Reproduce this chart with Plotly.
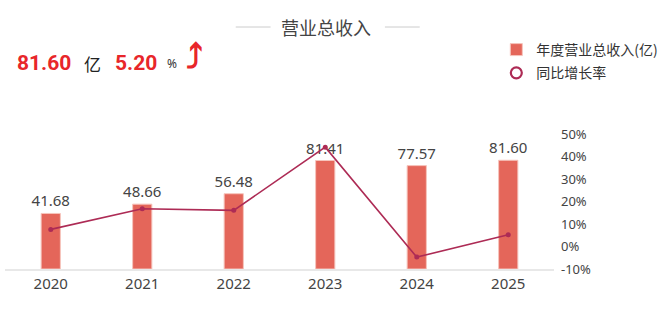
import plotly.graph_objects as go

years = ["2020", "2021", "2022", "2023", "2024", "2025"]
revenue = [41.68, 48.66, 56.48, 81.41, 77.57, 81.60]
growth = [7.6, 16.75, 16.07, 44.14, -4.72, 5.20]
right_ticks = [-10, 0, 10, 20, 30, 40, 50]

BAR_COLOR = "#E4665A"
LINE_COLOR = "#AD2B55"
FONT = "Noto Sans, Noto Sans CJK SC, sans-serif"
CJK = "Noto Sans CJK SC, sans-serif"

# plot-area geometry helpers (pixel -> paper)
L, R, T, B = 5, 111, 134, 49
W, H = 668, 318
PW, PH = W - L - R, H - T - B
def px(x):
    return (x - L) / PW
def py(y):
    return (H - B - y) / PH

fig = go.Figure()
fig.add_trace(go.Bar(
    x=years, y=revenue, name="年度营业总收入(亿)",
    marker=dict(color=BAR_COLOR, line=dict(color="#F6C4BC", width=1)),
    width=0.21,
    texttemplate="%{y:.2f}", textposition="outside", constraintext="none",
    textfont=dict(size=15, color="#444444", family=FONT),
    cliponaxis=False, legendgroup="a", hoverinfo="x+y",
))
fig.add_trace(go.Scatter(
    x=years, y=growth, yaxis="y2", mode="lines+markers",
    line=dict(color=LINE_COLOR, width=1.6),
    marker=dict(color=LINE_COLOR, size=5),
    showlegend=False, cliponaxis=False,
))
fig.add_trace(go.Scatter(
    x=[None], y=[None], yaxis="y2", mode="markers", name="同比增长率",
    marker=dict(symbol="circle-open", color=LINE_COLOR, size=11, line=dict(width=2.2)),
    legendgroup="b",
))

annotations = [
    dict(text="营业总收入", x=px(328), y=py(27), xanchor="center", yanchor="middle",
         font=dict(size=18, color="#444444", family=CJK)),
    dict(text="<b>%.2f</b>" % revenue[-1], x=px(15), y=py(63), xanchor="left", yanchor="middle",
         font=dict(size=21, color="#E8262A", family="Roboto, Noto Sans, sans-serif")),
    dict(text="亿", x=px(82), y=py(63), xanchor="left", yanchor="middle",
         font=dict(size=17, color="#222222", family=CJK)),
    dict(text="<b>%.2f</b>" % growth[-1], x=px(114), y=py(63), xanchor="left", yanchor="middle",
         font=dict(size=21, color="#E8262A", family="Roboto, Noto Sans, sans-serif")),
    dict(text="%", x=px(166), y=py(64), xanchor="left", yanchor="middle",
         font=dict(size=12, color="#333333", family=FONT)),
    dict(text="<b>⤴</b>", x=px(185), y=py(57), xanchor="left", yanchor="middle",
         font=dict(size=34, color="#E8262A", family="DejaVu Sans")),
]
for a in annotations:
    a.update(xref="paper", yref="paper", showarrow=False)

shapes = [
    dict(type="line", xref="paper", yref="paper", x0=px(237), x1=px(272), y0=py(27), y1=py(27),
         line=dict(color="#CCCCCC", width=1)),
    dict(type="line", xref="paper", yref="paper", x0=px(387), x1=px(422), y0=py(27), y1=py(27),
         line=dict(color="#CCCCCC", width=1)),
]

fig.update_layout(
    width=W, height=H,
    margin=dict(l=L, r=R, t=T, b=B, pad=0),
    paper_bgcolor="white", plot_bgcolor="white",
    font=dict(family=FONT, color="#444444"),
    showlegend=True,
    legend=dict(x=px(499), y=py(34), xanchor="left", yanchor="top",
                font=dict(size=14, color="#333333", family=CJK),
                itemwidth=30, tracegroupgap=2, bgcolor="rgba(0,0,0,0)"),
    xaxis=dict(type="category", showline=True, linecolor="#E8E8E8", linewidth=2,
               ticks="", showgrid=False, tickfont=dict(size=15, color="#444444", family=FONT)),
    yaxis=dict(range=[0, 101.3], visible=False, showgrid=False, zeroline=False),
    yaxis2=dict(overlaying="y", side="right", range=[-10, 50], tickvals=right_ticks,
                ticktext=["%d%%" % v for v in right_ticks],
                showgrid=False, zeroline=False, showline=False, ticks="",
                tickfont=dict(size=13, color="#444444", family=FONT), ticklabelstandoff=6),
    annotations=annotations, shapes=shapes,
    bargap=0.79,
)

fig.write_html("out.html")
